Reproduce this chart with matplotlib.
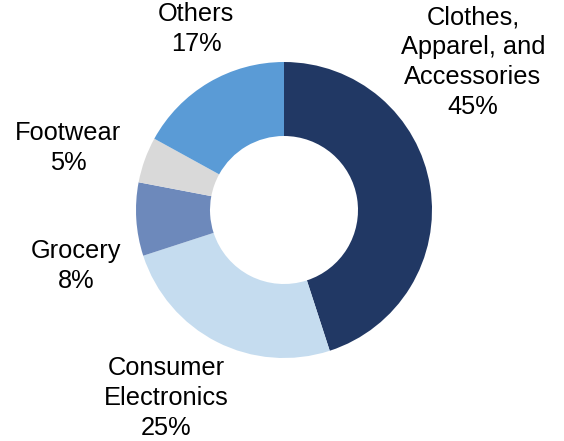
import matplotlib.pyplot as plt

# Sales share by category
categories = ['Clothes,\nApparel, and\nAccessories', 'Consumer\nElectronics',
              'Grocery', 'Footwear', 'Others']
shares = [45, 25, 8, 5, 17]
colors = ['#213864', '#C5DCEF', '#6D89BB', '#D9D9D9', '#5A9BD6']

# label anchor points (pixels from top-left of canvas)
label_xy = [(473, 62), (166, 398), (76, 266), (68, 148), (196, 29)]

W, H = 564, 441
plt.rcParams['font.family'] = ['Liberation Sans', 'DejaVu Sans']

fig = plt.figure(figsize=(W / 100, H / 100), dpi=100)
ax = fig.add_axes([0, 0, 1, 1])

ax.pie(shares, colors=colors, startangle=90, counterclock=False,
       center=(284, H - 210), radius=148,
       wedgeprops=dict(width=74, linewidth=0))

for name, val, (x, y) in zip(categories, shares, label_xy):
    ax.text(x, H - y, f'{name}\n{val}%', ha='center', va='center',
            fontsize=18.3, linespacing=1.3, color='black')

ax.set_xlim(0, W)
ax.set_ylim(0, H)
ax.set_aspect('equal')
ax.axis('off')

fig.savefig('out.png', dpi=100)
